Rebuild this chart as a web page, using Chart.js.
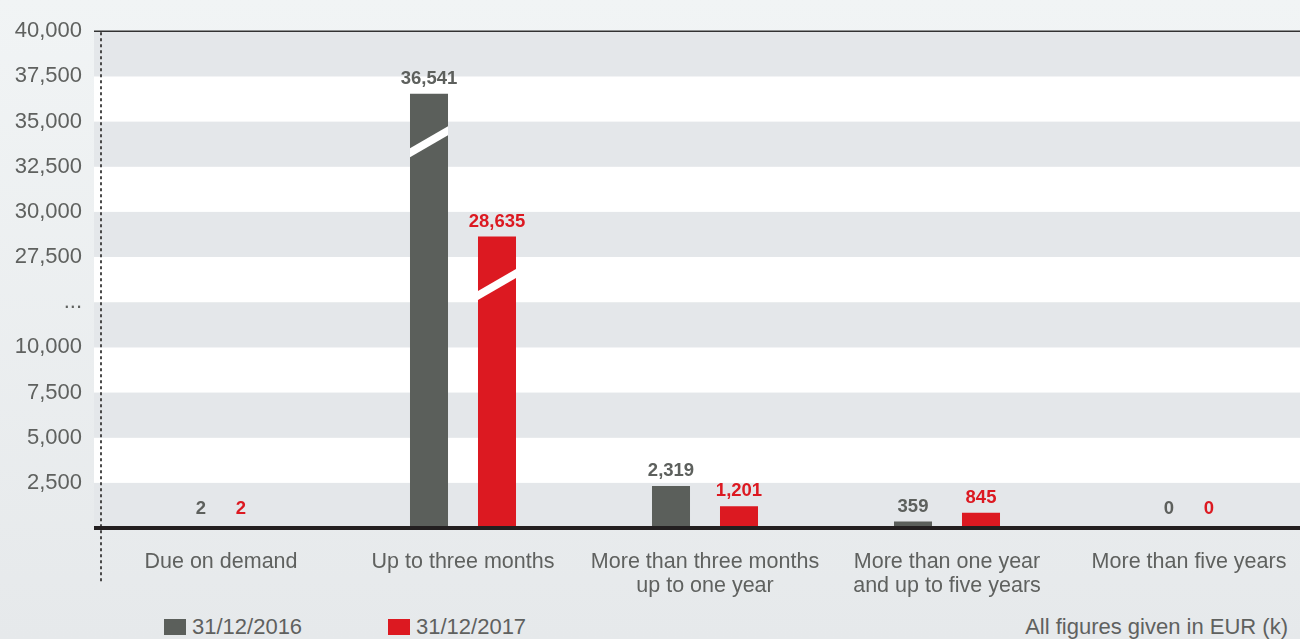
<!DOCTYPE html>
<html>
<head>
<meta charset="utf-8">
<script src="https://cdn.jsdelivr.net/npm/chart.js@4.4.1/dist/chart.umd.min.js"></script>
<style>
html, body { margin: 0; padding: 0; }
body {
  width: 1300px; height: 639px; overflow: hidden; position: relative;
  background: linear-gradient(#f1f4f5, #e6e9eb);
  font-family: "Liberation Sans", Arial, Helvetica, sans-serif;
}
#wrap { position: absolute; left: 0; top: 0; width: 1310px; height: 600px; }
.key { position: absolute; top: 614px; font-size: 22px; color: #5f615f; white-space: nowrap; }
.key i { display: inline-block; width: 22px; height: 16px; margin-right: 6px; vertical-align: -1px; }
#note { position: absolute; top: 614px; right: 12px; font-size: 22px; color: #5f615f; }
</style>
</head>
<body>
<div id="wrap"><canvas id="myChart" width="1310" height="600"></canvas></div>
<div id="legend"></div>
<div id="note">All figures given in EUR (k)</div>
<script>
let categories = [
  ["Due on demand"],
  ["Up to three months"],
  ["More than three months", "up to one year"],
  ["More than one year", "and up to five years"],
  ["More than five years"]
];
let seriesNames = ["31/12/2016", "31/12/2017"];
let values2016 = [2, 36541, 2319, 359, 0];
let values2017 = [2, 28635, 1201, 845, 0];
let yTickLabels = ["", "2,500", "5,000", "7,500", "10,000", "...", "27,500", "30,000", "32,500", "35,000", "37,500", "40,000"];
let chartColors = ["#5b5f5b", "#dc1921"];
let labelColors = ["#5d605d", "#dc1921"];

// axis is broken between 10,000 and 27,500
function squash(v) {
  return v > 25000 ? v - 12500 : v;
}

let fontFam = '"Liberation Sans", Arial, Helvetica, sans-serif';

// legend
let legendX = [164, 388];
let legend = document.getElementById("legend");
for (let i = 0; i < seriesNames.length; i++) {
  let d = document.createElement("div");
  d.className = "key";
  d.style.left = legendX[i] + "px";
  d.innerHTML = '<i style="background:' + chartColors[i] + '"></i>' + seriesNames[i];
  legend.appendChild(d);
}

const decor = {
  id: "decor",
  beforeDatasetsDraw(chart) {
    const { ctx, chartArea: a, scales: { y } } = chart;
    const x0 = a.left - 6;
    ctx.save();
    for (let i = 0; i < yTickLabels.length - 1; i++) {
      const bot = y.getPixelForValue(i * 2500);
      const top = y.getPixelForValue((i + 1) * 2500);
      ctx.fillStyle = i % 2 === 0 ? "#e4e7ea" : "#ffffff";
      ctx.fillRect(x0, top, a.right - x0, bot - top);
    }
    ctx.strokeStyle = "#333333";
    ctx.lineWidth = 1.5;
    ctx.beginPath();
    ctx.moveTo(x0, a.top);
    ctx.lineTo(a.right, a.top);
    ctx.stroke();
    ctx.restore();
  },
  afterDatasetsDraw(chart) {
    const { ctx, chartArea: a } = chart;
    const x0 = a.left - 6;
    ctx.save();
    let raws = [values2016, values2017];
    for (let d = 0; d < 2; d++) {
      const meta = chart.getDatasetMeta(d);
      meta.data.forEach((bar, j) => {
        const raw = raws[d][j];
        // white break slash across bars that cross the gap
        if (raw > 25000) {
          const cy = bar.y + 48;
          const l = bar.x - bar.width / 2, r = bar.x + bar.width / 2;
          ctx.fillStyle = "#ffffff";
          ctx.beginPath();
          ctx.moveTo(l, cy + 11 - 4.5);
          ctx.lineTo(r, cy - 11 - 4.5);
          ctx.lineTo(r, cy - 11 + 4.5);
          ctx.lineTo(l, cy + 11 + 4.5);
          ctx.closePath();
          ctx.fill();
        }
        let tx = bar.x;
        if (raw < 10) tx += d === 0 ? 14 : -14;
        const ty = Math.min(bar.y - 10, a.bottom - 14);
        ctx.fillStyle = labelColors[d];
        ctx.font = "bold 18.5px " + fontFam;
        ctx.textAlign = "center";
        ctx.textBaseline = "alphabetic";
        ctx.fillText(raw.toLocaleString("en-US"), tx, ty);
      });
    }
    // dotted vertical line
    ctx.strokeStyle = "#4a4a4a";
    ctx.lineWidth = 2;
    ctx.setLineDash([3, 3]);
    ctx.beginPath();
    ctx.moveTo(a.left + 1, a.top + 1);
    ctx.lineTo(a.left + 1, 583);
    ctx.stroke();
    ctx.setLineDash([]);
    // thick baseline
    ctx.strokeStyle = "#231f20";
    ctx.lineWidth = 4;
    ctx.beginPath();
    ctx.moveTo(x0, a.bottom);
    ctx.lineTo(a.right, a.bottom);
    ctx.stroke();
    ctx.restore();
  }
};

let ctx = document.getElementById("myChart").getContext("2d");

const myChart = new Chart(ctx, {
  type: "bar",
  data: {
    labels: categories,
    datasets: [{
      label: seriesNames[0],
      data: values2016.map(squash),
      backgroundColor: chartColors[0]
    }, {
      label: seriesNames[1],
      data: values2017.map(squash),
      backgroundColor: chartColors[1]
    }]
  },
  options: {
    responsive: false,
    animation: false,
    devicePixelRatio: 1,
    categoryPercentage: 0.562,
    barPercentage: 0.559,
    layout: { padding: { top: 30, left: 0, right: 0, bottom: 0 } },
    plugins: {
      legend: { display: false },
      tooltip: { enabled: false }
    },
    scales: {
      x: {
        grid: { display: false, drawTicks: false },
        border: { display: false },
        ticks: {
          color: "#5f615f",
          padding: 22,
          maxRotation: 0,
          autoSkip: false,
          font: { family: fontFam, size: 21.5, lineHeight: "24px" }
        },
        afterFit(scale) { scale.height = 72; }
      },
      y: {
        min: 0,
        max: 27500,
        grid: { display: false, drawTicks: false },
        border: { display: false },
        ticks: {
          stepSize: 2500,
          color: "#5f615f",
          padding: 18,
          font: { family: fontFam, size: 22 },
          callback: (v) => yTickLabels[Math.round(v / 2500)] ?? ""
        },
        afterFit(scale) { scale.width = 100; }
      }
    }
  },
  plugins: [decor]
});
</script>
</body>
</html>
